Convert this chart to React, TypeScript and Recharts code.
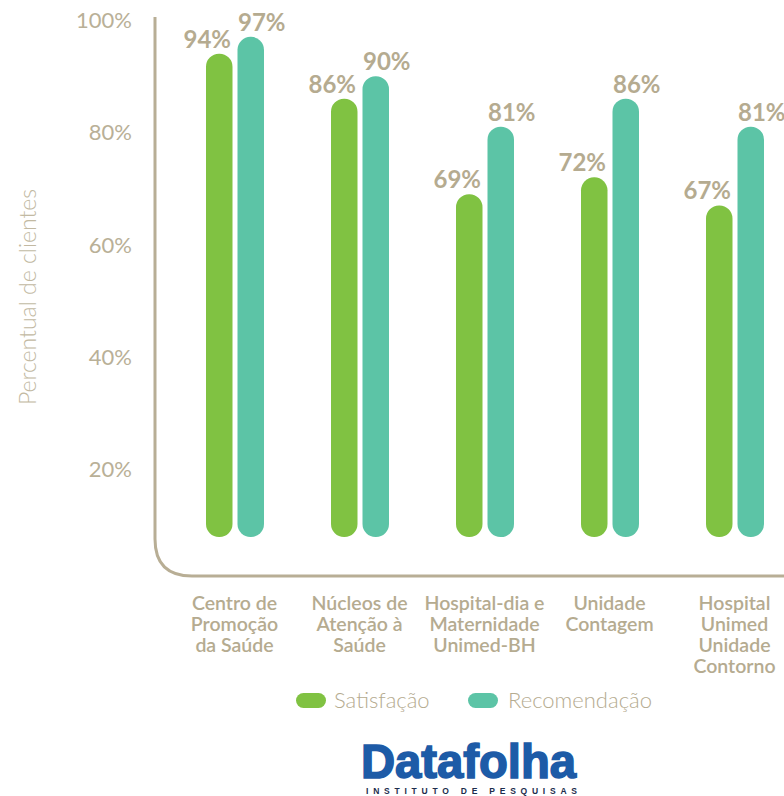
import React from "react";
import { BarChart, Bar, XAxis, YAxis, LabelList, Customized } from "recharts";

// categories and values
const categories = [
  "Centro de\nPromoção\nda Saúde",
  "Núcleos de\nAtenção à\nSaúde",
  "Hospital-dia e\nMaternidade\nUnimed-BH",
  "Unidade\nContagem",
  "Hospital\nUnimed\nUnidade\nContorno",
];
const satisfacao = [94, 86, 69, 72, 67];
const recomendacao = [97, 90, 81, 86, 81];
const yTicks = [20, 40, 60, 80, 100];
const BAR_FLOOR = 8; // bars start a bit above zero in the original

const series = [
  { key: "sat", name: "Satisfação", color: "#80c242", dx: -12 },
  { key: "rec", name: "Recomendação", color: "#5cc4a6", dx: 11 },
];

const TAN = "#b5ab90";
const FONT = "Lato, 'Open Sans', sans-serif";

const data = categories.map((name, i) => ({
  name,
  sat: [BAR_FLOOR, satisfacao[i]],
  rec: [BAR_FLOOR, recomendacao[i]],
  satV: satisfacao[i],
  recV: recomendacao[i],
}));

const CategoryTick = ({ x, y, payload }: any) => {
  const lines = String(payload.value).split("\n");
  return (
    <text x={x} y={y + 28} textAnchor="middle" fill={TAN} fontFamily={FONT} fontSize={19.5} fontWeight={600}>
      {lines.map((l, i) => (
        <tspan key={i} x={x} dy={i === 0 ? 0 : 21}>
          {l}
        </tspan>
      ))}
    </text>
  );
};

const pctLabel = (dx: number) => (props: any) => {
  const { x, y, width, value } = props;
  return (
    <text
      x={Number(x) + Number(width) / 2 + dx}
      y={Number(y) - 6}
      textAnchor="middle"
      fill={TAN}
      fontFamily={FONT}
      fontSize={24}
      fontWeight={700}
    >
      {value}%
    </text>
  );
};

// the rounded L-shaped axis frame + axis title
const AxisFrame = () => {
  const x0 = 155;
  const top = 17;
  const bottom = 576;
  const r = 37;
  return (
    <g>
      <path
        d={`M${x0},${top} L${x0},${bottom - r} Q${x0},${bottom} ${x0 + r},${bottom} L800,${bottom}`}
        fill="none"
        stroke="#b8ae95"
        strokeWidth={3}
      />
      <text
        x={27}
        y={297}
        transform="rotate(-90, 27, 297)"
        textAnchor="middle"
        dominantBaseline="central"
        fill="#c2b9a2"
        fontFamily={FONT}
        fontSize={23}
        fontWeight={300}
      >
        Percentual de clientes
      </text>
    </g>
  );
};

export default function App() {
  return (
    <div
      style={{
        position: "absolute",
        left: 0,
        top: 0,
        width: 784,
        height: 796,
        overflow: "hidden",
        background: "#fff",
      }}
    >
      <BarChart
        width={800}
        height={796}
        data={data}
        margin={{ top: 20, right: 3, left: 0, bottom: 184 }}
        barGap={5}
        barSize={26.5}
      >
        <Customized component={AxisFrame} />
        <XAxis
          dataKey="name"
          padding={{ left: 17, right: 0 }}
          axisLine={false}
          tickLine={false}
          tickSize={0}
          tickMargin={0}
          interval={0}
          height={30}
          tick={<CategoryTick />}
        />
        <YAxis
          width={155}
          domain={[0, 100]}
          ticks={yTicks}
          axisLine={false}
          tickLine={false}
          tickMargin={17}
          tickFormatter={(v) => `${v}%`}
          tick={{ fill: "#b9b097", fontFamily: FONT, fontSize: 22, fontWeight: 400 }}
        />
        {series.map((s) => (
          <Bar key={s.key} dataKey={s.key} fill={s.color} radius={13} isAnimationActive={false}>
            <LabelList dataKey={`${s.key}V`} content={pctLabel(s.dx)} />
          </Bar>
        ))}
      </BarChart>

      <svg width={784} height={796} style={{ position: "absolute", left: 0, top: 0, pointerEvents: "none" }}>
        {/* legend */}
        <rect x={296} y={693} width={30} height={15} rx={7.5} fill={series[0].color} />
        <text x={334} y={708} fill={TAN} fontFamily={FONT} fontSize={22} fontWeight={300}>
          {series[0].name}
        </text>
        <rect x={468} y={693} width={30} height={15} rx={7.5} fill={series[1].color} />
        <text x={508} y={708} fill={TAN} fontFamily={FONT} fontSize={22} fontWeight={300}>
          {series[1].name}
        </text>

        {/* Datafolha logo */}
        <text
          x={361}
          y={778}
          textLength={215}
          lengthAdjust="spacingAndGlyphs"
          fill="#1d5ba7"
          stroke="#1d5ba7"
          strokeWidth={1.6}
          fontFamily="'Liberation Sans', Arial, sans-serif"
          fontSize={48}
          fontWeight={700}
        >
          Datafolha
        </text>
        <text
          x={366}
          y={794}
          textLength={211}
          lengthAdjust="spacing"
          fill="#1c2c4c"
          fontFamily="'Liberation Sans', Arial, sans-serif"
          fontSize={8.5}
          fontWeight={700}
        >
          INSTITUTO DE PESQUISAS
        </text>
      </svg>
    </div>
  );
}
